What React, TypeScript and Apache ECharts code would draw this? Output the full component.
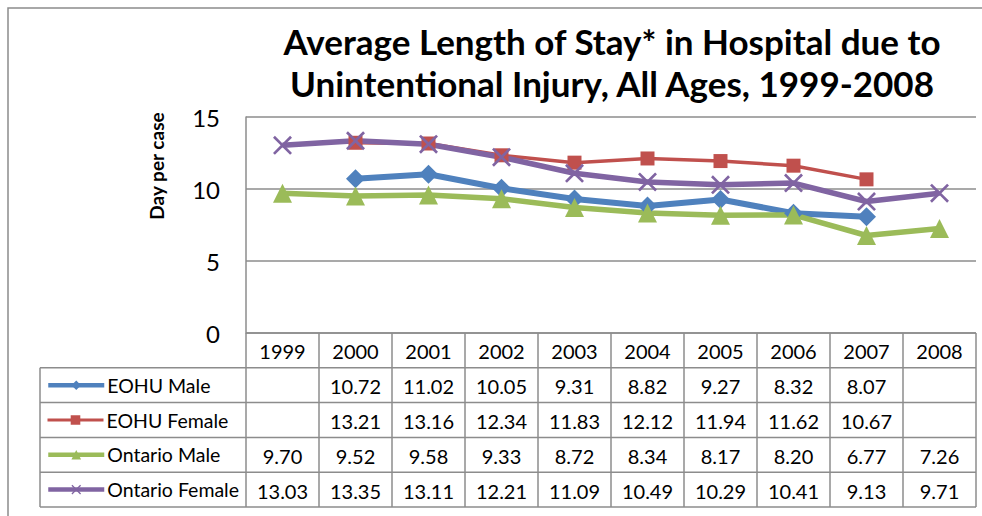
import React, { useEffect, useRef } from "react";
import * as echarts from "echarts";

const years = ["1999", "2000", "2001", "2002", "2003", "2004", "2005", "2006", "2007", "2008"];
const seriesNames = ["EOHU Male", "EOHU Female", "Ontario Male", "Ontario Female"];
const eohuMale = [null, 10.72, 11.02, 10.05, 9.31, 8.82, 9.27, 8.32, 8.07, null];
const eohuFemale = [null, 13.21, 13.16, 12.34, 11.83, 12.12, 11.94, 11.62, 10.67, null];
const ontarioMale = [9.7, 9.52, 9.58, 9.33, 8.72, 8.34, 8.17, 8.2, 6.77, 7.26];
const ontarioFemale = [13.03, 13.35, 13.11, 12.21, 11.09, 10.49, 10.29, 10.41, 9.13, 9.71];
const yTicks = [0, 5, 10, 15];
const titleText = "Average Length of Stay* in Hospital due to\nUnintentional Injury, All Ages, 1999-2008";
const yTitle = "Day per case";

const W = 982;
const H = 516;
const FONT = "Lato, 'Open Sans', sans-serif";
const GRID = "#8c8c8c";

export default function App() {
  const ref = useRef<HTMLDivElement>(null);
  useEffect(() => {
    const chart = echarts.init(ref.current!, null, { renderer: "svg", width: W, height: H });
    const xPath =
      "path://M2,0 L10,8 L18,0 L20,2 L12,10 L20,18 L18,20 L10,12 L2,20 L0,18 L8,10 L0,2 Z";
    const seriesData = [eohuMale, eohuFemale, ontarioMale, ontarioFemale];
    const colors = ["#4F81BD", "#C0504D", "#9BBB59", "#8064A2"];
    const widths = [6, 3.5, 5.5, 5.5];
    const legendWidths = [4.5, 3, 4.5, 4.5];
    const symbols = ["diamond", "rect", "triangle", xPath];
    const sizes = [19, 14, 19, 19];
    const gridTop = 117;
    const gridBottom = 333;
    const rowH = 34.8;
    const tableLeft = 40;

    const option: any = {
      animation: false,
      grid: { left: 246, top: gridTop, width: 730, height: gridBottom - gridTop, containLabel: false },
      xAxis: {
        type: "category",
        data: years,
        boundaryGap: true,
        axisLine: { show: false },
        axisTick: { show: false },
        axisLabel: { show: false },
        splitLine: { show: false },
      },
      yAxis: {
        type: "value",
        min: yTicks[0],
        max: yTicks[yTicks.length - 1],
        interval: 5,
        axisLine: { show: true, lineStyle: { color: GRID, width: 1.5 } },
        axisTick: { show: false },
        axisLabel: { fontSize: 24, color: "#000", margin: 26, fontFamily: FONT },
        splitLine: { lineStyle: { color: GRID, width: 1.5 } },
      },
      legend: seriesNames.map((n, i) => ({
        data: [n],
        left: 46,
        top: gridBottom + rowH * (i + 1) + rowH / 2 - 11,
        itemWidth: 56,
        itemHeight: 12,
        itemGap: 0,
        padding: 0,
        selectedMode: false,
        lineStyle: { width: legendWidths[i] },
        textStyle: { fontSize: 19.5, fontFamily: FONT, color: "#000", lineHeight: 22, padding: [0, 0, 0, -2] },
      })),
      series: seriesNames.map((n, i) => ({
        name: n,
        type: "line",
        data: seriesData[i],
        symbol: symbols[i],
        symbolSize: sizes[i],
        showAllSymbol: true,
        lineStyle: { color: colors[i], width: widths[i] },
        itemStyle: { color: colors[i] },
        emphasis: { disabled: true },
      })),
    };
    chart.setOption(option);

    const centers = years.map((y) => chart.convertToPixel({ xAxisIndex: 0 }, y) as number);
    const colW = centers[1] - centers[0];
    const colEdges = centers.map((c) => c - colW / 2).concat([centers[centers.length - 1] + colW / 2]);
    const rowEdges = [0, 1, 2, 3, 4, 5].map((k) => gridBottom + rowH * k);
    const tableRight = colEdges[colEdges.length - 1];

    const els: any[] = [];
    els.push({
      type: "rect",
      shape: { x: 8, y: 8, width: 1200, height: 800 },
      style: { fill: "none", stroke: GRID, lineWidth: 1.5 },
      silent: true,
    });
    els.push({
      type: "text",
      x: 612,
      y: 20,
      style: {
        text: titleText,
        fontSize: 35,
        fontWeight: "bold",
        fontFamily: FONT,
        lineHeight: 42,
        fill: "#000",
        align: "center",
        verticalAlign: "top",
      },
    });
    els.push({
      type: "text",
      x: 156,
      y: 166,
      rotation: Math.PI / 2,
      style: {
        text: yTitle,
        fontSize: 19,
        fontWeight: "bold",
        fontFamily: FONT,
        fill: "#000",
        align: "center",
        verticalAlign: "middle",
      },
    });
    rowEdges.forEach((y, k) => {
      els.push({
        type: "line",
        shape: { x1: k === 0 ? colEdges[0] : tableLeft, y1: y, x2: tableRight, y2: y },
        style: { stroke: GRID, lineWidth: 1.5 },
        silent: true,
      });
    });
    colEdges.forEach((x) => {
      els.push({
        type: "line",
        shape: { x1: x, y1: rowEdges[0], x2: x, y2: rowEdges[5] },
        style: { stroke: GRID, lineWidth: 1.5 },
        silent: true,
      });
    });
    els.push({
      type: "line",
      shape: { x1: tableLeft, y1: rowEdges[1], x2: tableLeft, y2: rowEdges[5] },
      style: { stroke: GRID, lineWidth: 1.5 },
      silent: true,
    });
    years.forEach((y, i) => {
      els.push({
        type: "text",
        x: centers[i],
        y: (rowEdges[0] + rowEdges[1]) / 2 + 1,
        style: { text: y, fontSize: 20, fontFamily: FONT, fill: "#000", align: "center", verticalAlign: "middle" },
      });
    });
    seriesData.forEach((arr, r) => {
      arr.forEach((v, i) => {
        if (v == null) return;
        els.push({
          type: "text",
          x: centers[i],
          y: (rowEdges[r + 1] + rowEdges[r + 2]) / 2 + 1,
          style: {
            text: (v as number).toFixed(2),
            fontSize: 20,
            fontFamily: FONT,
            fill: "#000",
            align: "center",
            verticalAlign: "middle",
          },
        });
      });
    });
    chart.setOption({ graphic: { elements: els } });

    return () => chart.dispose();
  }, []);
  return (
    <div
      ref={ref}
      style={{ position: "absolute", left: 0, top: 0, width: W, height: H, background: "#fff" }}
    />
  );
}
